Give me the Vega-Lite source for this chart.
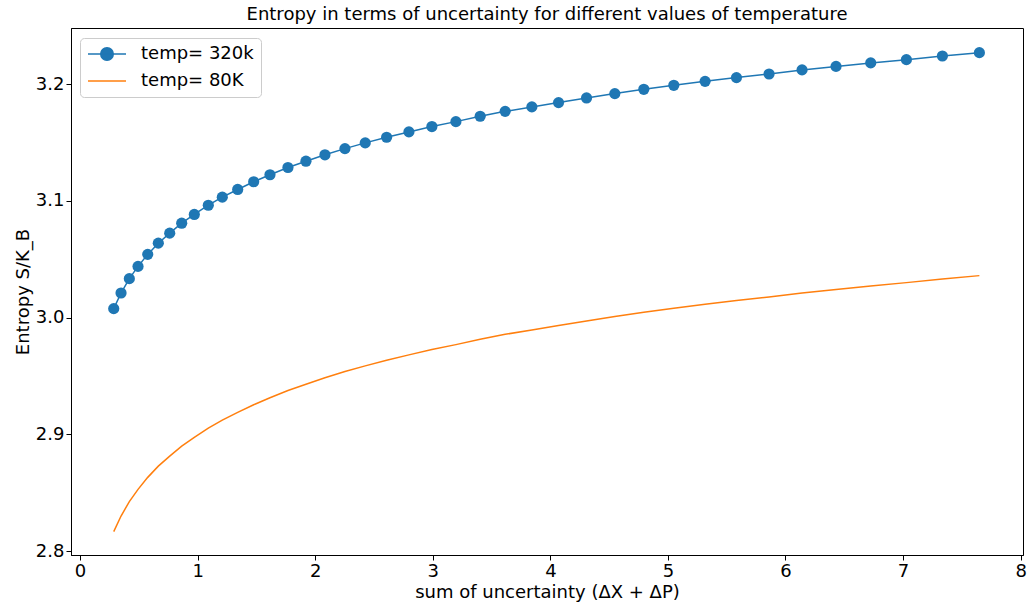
{
  "$schema": "https://vega.github.io/schema/vega-lite/v6.json",
  "width": 952,
  "height": 527,
  "autosize": "none",
  "padding": {"left": 71, "top": 28, "right": 12, "bottom": 48},
  "background": "white",
  "config": {
    "font": "DejaVu Sans",
    "view": {"stroke": "black", "strokeWidth": 1},
    "axis": {
      "grid": false,
      "domainColor": "black",
      "domainWidth": 1,
      "tickColor": "black",
      "tickSize": 5,
      "tickWidth": 1,
      "labelColor": "black",
      "labelFont": "DejaVu Sans",
      "labelFontSize": 18,
      "labelPadding": 2,
      "titleColor": "black",
      "titleFont": "DejaVu Sans",
      "titleFontSize": 18,
      "titleFontWeight": "normal"
    },
    "title": {"font": "DejaVu Sans", "fontSize": 18, "fontWeight": "normal", "color": "black", "offset": 4, "baseline": "alphabetic"}
  },
  "title": {"text": "Entropy in terms of uncertainty for different values of temperature"},
  "data": {
    "values": [
      {"x": 0.2865, "S": 3.0076, "series": "temp= 320k"},
      {"x": 0.3486, "S": 3.0210, "series": "temp= 320k"},
      {"x": 0.4191, "S": 3.0333, "series": "temp= 320k"},
      {"x": 0.4931, "S": 3.0438, "series": "temp= 320k"},
      {"x": 0.5756, "S": 3.0541, "series": "temp= 320k"},
      {"x": 0.6657, "S": 3.0637, "series": "temp= 320k"},
      {"x": 0.7626, "S": 3.0723, "series": "temp= 320k"},
      {"x": 0.8646, "S": 3.0808, "series": "temp= 320k"},
      {"x": 0.9717, "S": 3.0883, "series": "temp= 320k"},
      {"x": 1.0908, "S": 3.0962, "series": "temp= 320k"},
      {"x": 1.2098, "S": 3.1031, "series": "temp= 320k"},
      {"x": 1.3407, "S": 3.1097, "series": "temp= 320k"},
      {"x": 1.4768, "S": 3.1163, "series": "temp= 320k"},
      {"x": 1.6153, "S": 3.1223, "series": "temp= 320k"},
      {"x": 1.7683, "S": 3.1285, "series": "temp= 320k"},
      {"x": 1.9214, "S": 3.1339, "series": "temp= 320k"},
      {"x": 2.0829, "S": 3.1394, "series": "temp= 320k"},
      {"x": 2.2529, "S": 3.1447, "series": "temp= 320k"},
      {"x": 2.4255, "S": 3.1496, "series": "temp= 320k"},
      {"x": 2.6074, "S": 3.1544, "series": "temp= 320k"},
      {"x": 2.7970, "S": 3.1590, "series": "temp= 320k"},
      {"x": 2.9926, "S": 3.1636, "series": "temp= 320k"},
      {"x": 3.1966, "S": 3.1678, "series": "temp= 320k"},
      {"x": 3.4032, "S": 3.1724, "series": "temp= 320k"},
      {"x": 3.6157, "S": 3.1766, "series": "temp= 320k"},
      {"x": 3.8427, "S": 3.1804, "series": "temp= 320k"},
      {"x": 4.0697, "S": 3.1841, "series": "temp= 320k"},
      {"x": 4.3078, "S": 3.1881, "series": "temp= 320k"},
      {"x": 4.5484, "S": 3.1918, "series": "temp= 320k"},
      {"x": 4.7949, "S": 3.1955, "series": "temp= 320k"},
      {"x": 5.0500, "S": 3.1989, "series": "temp= 320k"},
      {"x": 5.3161, "S": 3.2023, "series": "temp= 320k"},
      {"x": 5.5830, "S": 3.2055, "series": "temp= 320k"},
      {"x": 5.8602, "S": 3.2086, "series": "temp= 320k"},
      {"x": 6.1407, "S": 3.2121, "series": "temp= 320k"},
      {"x": 6.4298, "S": 3.2151, "series": "temp= 320k"},
      {"x": 6.7248, "S": 3.2181, "series": "temp= 320k"},
      {"x": 7.0283, "S": 3.2209, "series": "temp= 320k"},
      {"x": 7.3344, "S": 3.2240, "series": "temp= 320k"},
      {"x": 7.6490, "S": 3.2269, "series": "temp= 320k"},
      {"x": 0.2865, "S": 2.8166, "series": "temp= 80K"},
      {"x": 0.3486, "S": 2.8300, "series": "temp= 80K"},
      {"x": 0.4191, "S": 2.8423, "series": "temp= 80K"},
      {"x": 0.4931, "S": 2.8528, "series": "temp= 80K"},
      {"x": 0.5756, "S": 2.8631, "series": "temp= 80K"},
      {"x": 0.6657, "S": 2.8727, "series": "temp= 80K"},
      {"x": 0.7626, "S": 2.8813, "series": "temp= 80K"},
      {"x": 0.8646, "S": 2.8898, "series": "temp= 80K"},
      {"x": 0.9717, "S": 2.8973, "series": "temp= 80K"},
      {"x": 1.0908, "S": 2.9052, "series": "temp= 80K"},
      {"x": 1.2098, "S": 2.9121, "series": "temp= 80K"},
      {"x": 1.3407, "S": 2.9187, "series": "temp= 80K"},
      {"x": 1.4768, "S": 2.9253, "series": "temp= 80K"},
      {"x": 1.6153, "S": 2.9313, "series": "temp= 80K"},
      {"x": 1.7683, "S": 2.9375, "series": "temp= 80K"},
      {"x": 1.9214, "S": 2.9429, "series": "temp= 80K"},
      {"x": 2.0829, "S": 2.9484, "series": "temp= 80K"},
      {"x": 2.2529, "S": 2.9537, "series": "temp= 80K"},
      {"x": 2.4255, "S": 2.9586, "series": "temp= 80K"},
      {"x": 2.6074, "S": 2.9634, "series": "temp= 80K"},
      {"x": 2.7970, "S": 2.9680, "series": "temp= 80K"},
      {"x": 2.9926, "S": 2.9726, "series": "temp= 80K"},
      {"x": 3.1966, "S": 2.9768, "series": "temp= 80K"},
      {"x": 3.4032, "S": 2.9814, "series": "temp= 80K"},
      {"x": 3.6157, "S": 2.9856, "series": "temp= 80K"},
      {"x": 3.8427, "S": 2.9894, "series": "temp= 80K"},
      {"x": 4.0697, "S": 2.9931, "series": "temp= 80K"},
      {"x": 4.3078, "S": 2.9971, "series": "temp= 80K"},
      {"x": 4.5484, "S": 3.0008, "series": "temp= 80K"},
      {"x": 4.7949, "S": 3.0045, "series": "temp= 80K"},
      {"x": 5.0500, "S": 3.0079, "series": "temp= 80K"},
      {"x": 5.3161, "S": 3.0113, "series": "temp= 80K"},
      {"x": 5.5830, "S": 3.0145, "series": "temp= 80K"},
      {"x": 5.8602, "S": 3.0176, "series": "temp= 80K"},
      {"x": 6.1407, "S": 3.0211, "series": "temp= 80K"},
      {"x": 6.4298, "S": 3.0241, "series": "temp= 80K"},
      {"x": 6.7248, "S": 3.0271, "series": "temp= 80K"},
      {"x": 7.0283, "S": 3.0299, "series": "temp= 80K"},
      {"x": 7.3344, "S": 3.0330, "series": "temp= 80K"},
      {"x": 7.6490, "S": 3.0359, "series": "temp= 80K"}
    ]
  },
  "encoding": {
    "x": {
      "field": "x",
      "type": "quantitative",
      "scale": {"domain": [-0.077, 8.02], "nice": false, "zero": false},
      "axis": {"values": [0, 1, 2, 3, 4, 5, 6, 7, 8], "format": "d", "title": "sum of uncertainty (ΔX + ΔP)", "titlePadding": 3}
    },
    "y": {
      "field": "S",
      "type": "quantitative",
      "scale": {"domain": [2.7966, 3.248], "nice": false, "zero": false},
      "axis": {"values": [2.8, 2.9, 3.0, 3.1, 3.2], "format": ".1f", "title": "Entropy S/K_B", "titlePadding": 3}
    },
    "color": {
      "field": "series",
      "type": "nominal",
      "scale": {"domain": ["temp= 320k", "temp= 80K"], "range": ["#1f77b4", "#ff7f0e"]},
      "legend": {
        "title": null,
        "orient": "none",
        "legendX": 9,
        "legendY": 10,
        "padding": 7,
        "fillColor": "rgba(255,255,255,0.8)",
        "strokeColor": "#cccccc",
        "cornerRadius": 4,
        "labelFont": "DejaVu Sans",
        "labelFontSize": 18,
        "labelColor": "black",
        "labelOffset": 14,
        "symbolSize": 1444,
        "symbolStrokeWidth": 1.5,
        "clipHeight": 18,
        "rowPadding": 9,
        "encode": {
          "symbols": {
            "update": {
              "shape": {"signal": "datum.value === 'temp= 320k' ? 'M-1,0L1,0M-0.33,0A0.33,0.33,0,1,1,0.33,0A0.33,0.33,0,1,1,-0.33,0Z' : 'M-1,0L1,0'"},
              "fill": {"signal": "datum.value === 'temp= 320k' ? '#1f77b4' : 'transparent'"},
              "stroke": {"signal": "datum.value === 'temp= 320k' ? '#1f77b4' : '#ff7f0e'"},
              "strokeWidth": {"value": 1.5},
              "opacity": {"value": 1}
            }
          }
        }
      }
    }
  },
  "layer": [
    {"mark": {"type": "line", "strokeWidth": 1.5}},
    {
      "transform": [{"filter": "datum.series === 'temp= 320k'"}],
      "mark": {"type": "point", "filled": true, "size": 125, "opacity": 1, "shape": "circle"}
    }
  ]
}
